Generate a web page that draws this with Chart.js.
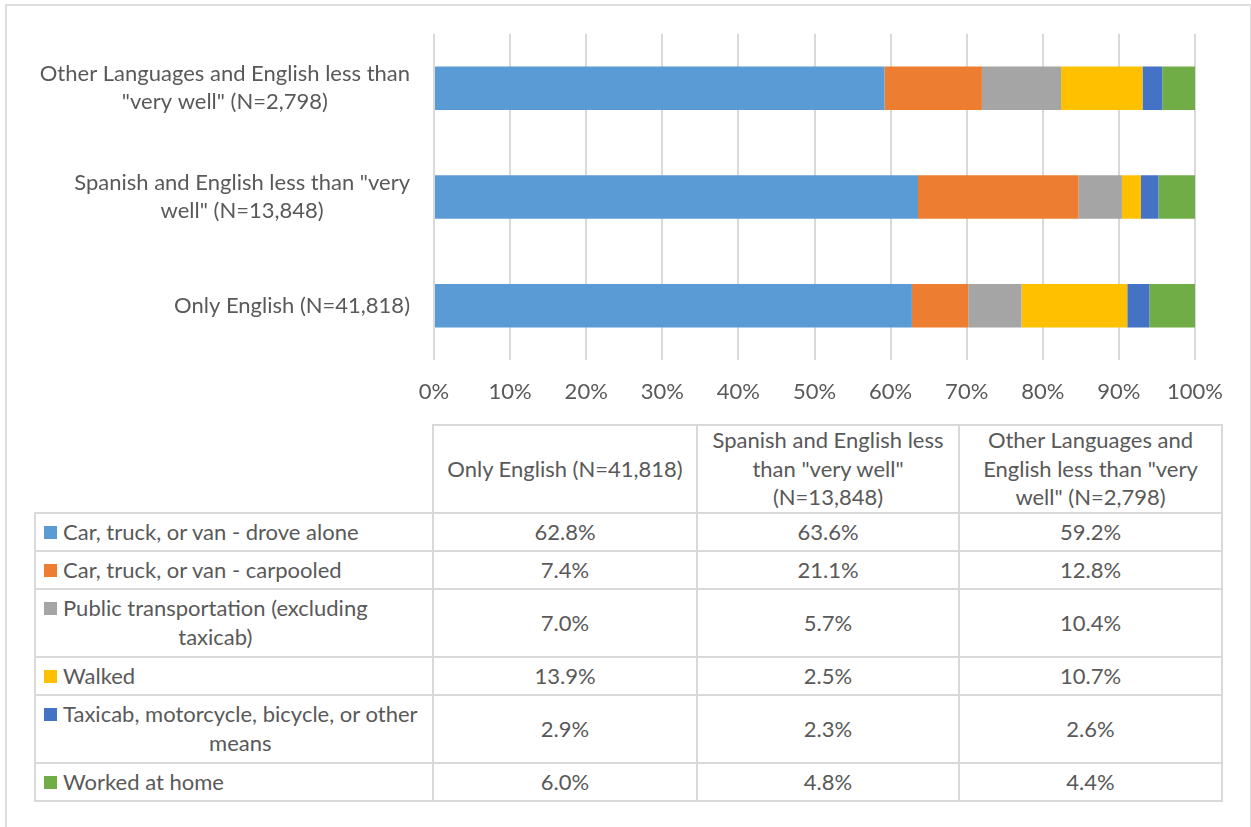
<!DOCTYPE html>
<html>
<head>
<meta charset="utf-8">
<title>Means of transportation to work by language spoken</title>
<script src="https://cdn.jsdelivr.net/npm/chart.js@4.4.1/dist/chart.umd.min.js"></script>
<style>
    body { margin: 0; background: #fff; font-family: Lato, "Open Sans", sans-serif; color: #595959; }
    #frame { position: absolute; left: 5px; top: 4px; width: 1243px; height: 900px; border: 2px solid #dedede; }
    #chartBox { position: absolute; left: 0; top: 0; width: 1251px; height: 420px; }
    #dataTable { position: absolute; left: 34px; top: 424px; border-collapse: collapse; table-layout: fixed; font-size: 22px; line-height: 1.3; }
    #dataTable td { border: 2px solid #d9d9d9; text-align: center; vertical-align: middle; padding: 0 6px; }
    #dataTable td.blank { border-top: none; border-left: none; }
    #dataTable td.series { text-align: left; padding-left: 8px; white-space: nowrap; }
    .swatch { display: inline-block; width: 13px; height: 13px; margin-right: 6px; position: relative; top: -1px; }
    .lbl { display: inline-block; text-align: center; vertical-align: top; }
</style>
</head>
<body>
<div id="frame"></div>
<div id="chartBox"><canvas id="commuteChart" width="1251" height="420"></canvas></div>
<table id="dataTable"></table>
<script>
// Language groups (bottom to top on the chart, left to right in the table)
const categories = [
    'Only English (N=41,818)',
    'Spanish and English less than "very well" (N=13,848)',
    'Other Languages and English less than "very well" (N=2,798)'
];

// Means of transportation
const seriesNames = [
    'Car, truck, or van - drove alone',
    'Car, truck, or van - carpooled',
    'Public transportation (excluding taxicab)',
    'Walked',
    'Taxicab, motorcycle, bicycle, or other means',
    'Worked at home'
];

// Share of workers (%) per language group
const droveAlone    = [62.8, 63.6, 59.2];
const carpooled     = [7.4, 21.1, 12.8];
const publicTransit = [7.0, 5.7, 10.4];
const walked        = [13.9, 2.5, 10.7];
const otherMeans    = [2.9, 2.3, 2.6];
const workedAtHome  = [6.0, 4.8, 4.4];

// x axis ticks (%)
const xTicks = [0, 10, 20, 30, 40, 50, 60, 70, 80, 90, 100];

const seriesValues = [droveAlone, carpooled, publicTransit, walked, otherMeans, workedAtHome];
const seriesColors = ['#5b9bd5', '#ed7d31', '#a5a5a5', '#ffc000', '#4472c4', '#70ad47'];

const TEXT_COLOR = '#595959';
const FONT = '22px Lato, "Open Sans", sans-serif';

// word wrap helper, same widths for canvas and table
const measureCtx = document.createElement('canvas').getContext('2d');
function wrapText(text, maxWidth) {
    measureCtx.font = FONT;
    const words = text.split(' ');
    const lines = [];
    let line = '';
    words.forEach(w => {
        const test = line ? line + ' ' + w : w;
        if (line && measureCtx.measureText(test).width > maxWidth) {
            lines.push(line);
            line = w;
        } else {
            line = test;
        }
    });
    lines.push(line);
    return lines;
}

// category labels: block right-aligned against the axis, lines centred in the block
const yLabelPlugin = {
    id: 'yLabels',
    afterDraw(chart) {
        const ctx = chart.ctx;
        const yScale = chart.scales.y;
        ctx.save();
        ctx.font = FONT;
        ctx.fillStyle = TEXT_COLOR;
        ctx.textAlign = 'center';
        ctx.textBaseline = 'middle';
        categories.forEach((cat, i) => {
            const lines = wrapText(cat, 380);
            const widest = Math.max(...lines.map(l => ctx.measureText(l).width));
            const cx = yScale.right - 24 - widest / 2;
            const cy = yScale.getPixelForValue(i);
            lines.forEach((l, k) => ctx.fillText(l, cx, cy + (k - (lines.length - 1) / 2) * 28));
        });
        ctx.restore();
    }
};

Chart.defaults.font.family = 'Lato, "Open Sans", sans-serif';
Chart.defaults.font.size = 22;
Chart.defaults.color = TEXT_COLOR;

const commuteChart = new Chart(document.getElementById('commuteChart'), {
    type: 'bar',
    data: {
        labels: categories,
        datasets: seriesNames.map((name, i) => ({
            label: name,
            data: seriesValues[i],
            backgroundColor: seriesColors[i],
            borderWidth: 0,
            barPercentage: 0.4,
            categoryPercentage: 1.0
        }))
    },
    options: {
        indexAxis: 'y',
        responsive: false,
        animation: false,
        layout: { padding: { left: 0, right: 56, top: 34, bottom: 0 } },
        plugins: {
            legend: { display: false },
            tooltip: { enabled: false }
        },
        scales: {
            x: {
                stacked: true,
                min: 0,
                max: 100,
                afterBuildTicks: (scale) => { scale.ticks = xTicks.map(v => ({ value: v })); },
                afterFit: (scale) => { scale.height = 60; },
                ticks: { padding: 19, callback: (v) => v + '%', maxRotation: 0 },
                grid: { color: '#d9d9d9', lineWidth: 2, drawTicks: false },
                border: { display: false }
            },
            y: {
                stacked: true,
                reverse: true,
                afterFit: (scale) => { scale.width = 434; },
                ticks: { display: false },
                grid: { display: false, drawTicks: false },
                border: { display: false }
            }
        }
    },
    plugins: [yLabelPlugin]
});

// data table under the chart
const table = document.getElementById('dataTable');
const colWidths = [398, 264, 262, 263];
const colgroup = document.createElement('colgroup');
colWidths.forEach(w => {
    const col = document.createElement('col');
    col.style.width = w + 'px';
    colgroup.appendChild(col);
});
table.appendChild(colgroup);

const headRow = table.insertRow();
headRow.style.height = '88px';
const blank = headRow.insertCell();
blank.className = 'blank';
categories.forEach(cat => {
    const td = headRow.insertCell();
    td.innerHTML = wrapText(cat, 245).join('<br>');
});

seriesNames.forEach((name, i) => {
    const tr = table.insertRow();
    const lines = wrapText(name, 368);
    tr.style.height = (lines.length > 1 ? 68 : 38) + 'px';
    const head = tr.insertCell();
    head.className = 'series';
    const sw = document.createElement('span');
    sw.className = 'swatch';
    sw.style.background = seriesColors[i];
    const lbl = document.createElement('span');
    lbl.className = 'lbl';
    lbl.innerHTML = lines.join('<br>');
    head.appendChild(sw);
    head.appendChild(lbl);
    seriesValues[i].forEach(v => {
        const td = tr.insertCell();
        td.textContent = v.toFixed(1) + '%';
    });
});
</script>
</body>
</html>
